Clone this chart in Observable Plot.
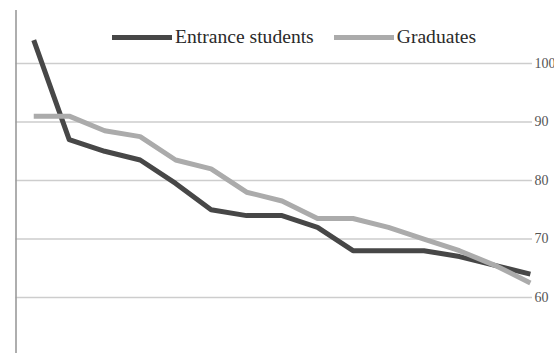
<!DOCTYPE html>
<html>
<head>
<meta charset="utf-8">
<script src="https://cdn.jsdelivr.net/npm/d3@7"></script>
<script src="https://cdn.jsdelivr.net/npm/@observablehq/plot@0.6"></script>
<style>
  html, body { margin: 0; padding: 0; background: #fff; }
  #wrap { position: relative; width: 554px; height: 353px; overflow: hidden; }
  #legend { position: absolute; left: 112px; top: 27px; height: 20px; display: flex; align-items: center;
            font-family: "Liberation Serif", serif; font-size: 19.6px; color: #2a2a2a; white-space: nowrap; }
  .sw { display: inline-block; width: 60px; height: 5px; margin-right: 3px; }
</style>
</head>
<body>
<div id="wrap"><div id="legend"></div></div>
<script>
const seriesNames = ["Entrance students", "Graduates"];
const seriesColors = ["#474747", "#ababab"];
const positions = [1, 2, 3, 4, 5, 6, 7, 8, 9, 10, 11, 12, 13, 14, 15];
const entrance = [104, 87, 85, 83.5, 79.5, 75, 74, 74, 72, 68, 68, 68, 67, 65.5, 64];
const graduates = [91, 91, 88.5, 87.5, 83.5, 82, 78, 76.5, 73.5, 73.5, 72, 70, 68, 65.5, 62.5];
const yTicks = [60, 70, 80, 90, 100];

const data = [];
positions.forEach((p, i) => {
  data.push({pos: p, value: entrance[i], series: seriesNames[0]});
});
positions.forEach((p, i) => {
  data.push({pos: p, value: graduates[i], series: seriesNames[1]});
});

const xDomain = [0.5, 15.06];
const yDomain = [50.43, 109.06];

const chart = Plot.plot({
  width: 554,
  height: 353,
  marginLeft: 15.5,
  marginRight: 22,
  marginTop: 10,
  marginBottom: 0,
  style: {fontFamily: "Liberation Serif, serif", background: "#fff", color: "#555"},
  x: {domain: xDomain, axis: null},
  y: {domain: yDomain, axis: null},
  color: {domain: seriesNames, range: seriesColors},
  marks: [
    Plot.gridY(yTicks, {stroke: "#cdcdcd", strokeOpacity: 1, strokeWidth: 1.6}),
    Plot.ruleX([xDomain[0]], {stroke: "#9a9a9a", strokeWidth: 1.6}),
    Plot.axisY(yTicks, {anchor: "right", tickSize: 0, tickPadding: 2, fontSize: 14, fill: "#555", label: null}),
    Plot.line(data, {x: "pos", y: "value", z: "series", stroke: "series", strokeWidth: 5, strokeLinejoin: "round", strokeLinecap: "butt"})
  ]
});
document.getElementById("wrap").prepend(chart);

const legend = document.getElementById("legend");
seriesNames.forEach((name, i) => {
  const sw = document.createElement("span");
  sw.className = "sw";
  sw.style.background = seriesColors[i];
  if (i > 0) sw.style.marginLeft = "20px";
  const t = document.createElement("span");
  t.textContent = name;
  legend.appendChild(sw);
  legend.appendChild(t);
});
</script>
</body>
</html>
